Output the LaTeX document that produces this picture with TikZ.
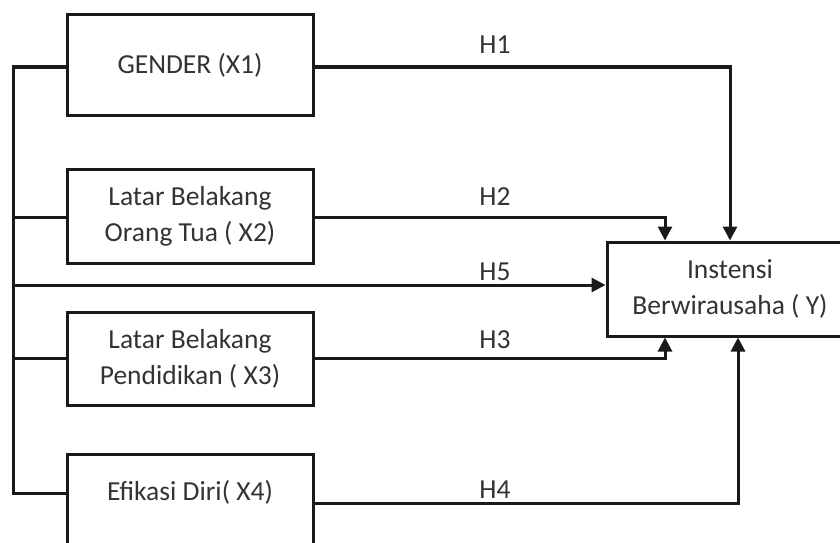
\documentclass[tikz,border=0pt]{standalone}
\usepackage{fontspec}
\setmainfont{Carlito}
\usetikzlibrary{arrows.meta}
\definecolor{txt}{HTML}{333333}
\definecolor{ln}{HTML}{1A1A1A}
\begin{document}
\begin{tikzpicture}[x=1pt,y=-1pt,
  box/.style={draw=ln,line width=3pt,minimum width=246pt,inner sep=0pt,align=center,text=txt,font=\fontsize{27.5}{36}\selectfont},
  lbl/.style={text=txt,font=\fontsize{27.5}{32}\selectfont,inner sep=0pt},
  con/.style={draw=ln,line width=3pt},
  arr/.style={con,-{Triangle[length=14pt,width=14pt]}}]
\useasboundingbox (0,0) rectangle (840,543);
\clip (0,0) rectangle (840,543);
% boxes
\node[box,minimum height=100pt] (X1) at (190,65) {GENDER (X1)};
\node[box,minimum height=94pt] (X2) at (190,216) {Latar Belakang\\Orang Tua ( X2)};
\node[box,minimum height=93pt] (X3) at (190,358.5) {Latar Belakang\\Pendidikan ( X3)};
\node[box,minimum height=120pt] (X4) at (190,514) {};
\node[lbl] (X4t) at (190,492) {Efikasi Diri( X4)};
\node[box,minimum height=94pt] (Y) at (730,289) {Instensi\\Berwirausaha ( Y)};
% labels
\node[lbl] (H1) at (495,45) {H1};
\node[lbl] (H2) at (495,197) {H2};
\node[lbl] (H5) at (495,272) {H5};
\node[lbl] (H3) at (495,340) {H3};
\node[lbl] (H4) at (495,490) {H4};
% left bus
\coordinate (b1) at (13,67);
\coordinate (b2) at (13,217);
\coordinate (b5) at (13,285);
\coordinate (b3) at (13,358);
\coordinate (b4) at (13,493);
\draw[con] (b1 -| X1.west) -- (b1) -- (b4) -- (b4 -| X4.west);
\draw[con] (b2) -- (b2 -| X2.west);
\draw[con] (b3) -- (b3 -| X3.west);
\draw[arr] (b5) -- (b5 -| Y.west);
% right connectors
\coordinate (c1) at (730,67);
\coordinate (c2) at (665,217);
\coordinate (c3) at (665,358);
\coordinate (c4) at (738,503);
\draw[arr] (X1.east |- c1) -- (c1) -- (c1 |- Y.north);
\draw[arr] (X2.east |- c2) -- (c2) -- (c2 |- Y.north);
\draw[arr] (X3.east |- c3) -- (c3) -- (c3 |- Y.south);
\draw[arr] (X4.east |- c4) -- (c4) -- (c4 |- Y.south);
\end{tikzpicture}
\end{document}
